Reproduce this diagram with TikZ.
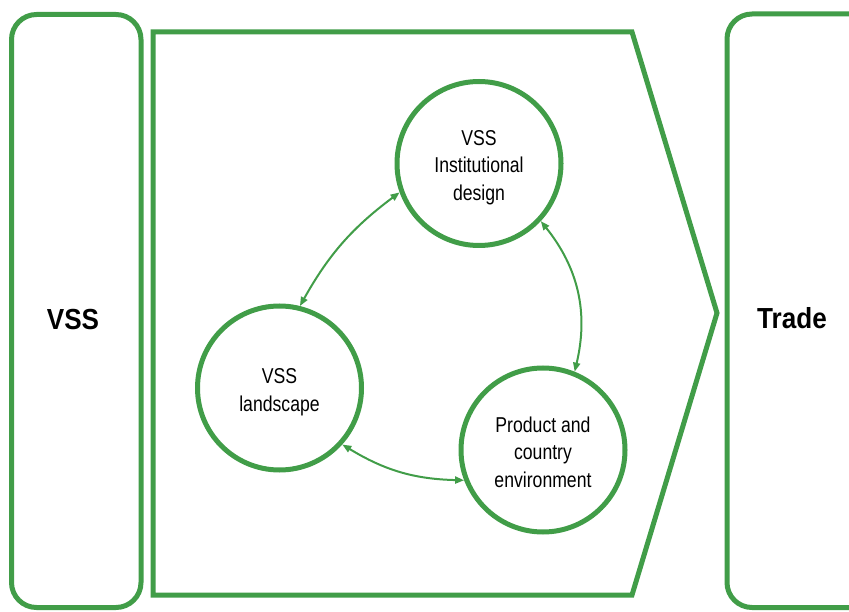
\documentclass[tikz,border=0pt]{standalone}
\usepackage{fontspec}
\setmainfont{Liberation Sans}[FakeStretch=0.82]
\newfontfamily\sidefont{Liberation Sans}[FakeStretch=0.9]
\usetikzlibrary{arrows.meta}
\definecolor{vgreen}{RGB}{65,157,72}
\begin{document}
\begin{tikzpicture}[x=1pt,y=-1pt,
  frame/.style={draw=vgreen,line width=5pt},
  roundframe/.style={frame,rounded corners=25pt},
  topic/.style={circle,draw=vgreen,line width=5pt,minimum size=164pt,inner sep=0pt},
  topictext/.style={align=center,font=\fontsize{21.5}{27.5}\selectfont,text=black,inner sep=0pt},
  sidelabel/.style={font=\sidefont\fontsize{29}{32}\selectfont\bfseries,text=black},
  link/.style={draw=vgreen,line width=2pt,{Triangle[length=9pt,width=7pt]}-{Triangle[length=9pt,width=7pt]}}
]
\useasboundingbox (0,0) rectangle (849,612);
\clip (0,0) rectangle (849,612);
% side boxes
\draw[roundframe] (11.5,14.5) rectangle (141,607.5);
\draw[roundframe] (727,14) rectangle (880,607.5);
% chevron
\draw[frame,line join=miter] (153,32) -- (632,32) -- (717,313) -- (632,595) -- (153,595) -- cycle;
% labels
\node[sidelabel] (vss) at (73,320) {VSS};
\node[sidelabel] (trade) at (792,318) {Trade};
% circles
\node[topic] (inst) at (479,163.5) {};
\node[topic] (land) at (279.5,388) {};
\node[topic] (prod) at (543,450) {};
\node[topictext] (instT) at (479,167.5) {VSS\\Institutional\\design};
\node[topictext] (landT) at (279.5,392) {VSS\\landscape};
\node[topictext] (prodT) at (543,452) {Product and\\country\\environment};
% connectors
\draw[link] (inst.200) to[bend right=12] (land.76);
\draw[link] (inst.317) to[bend left=26] (prod.68);
\draw[link] (land.318) to[bend right=15] (prod.201);
\end{tikzpicture}
\end{document}
